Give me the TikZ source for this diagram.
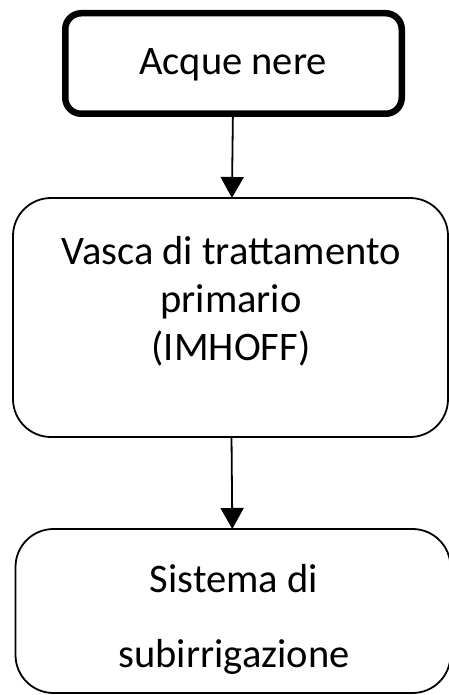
\documentclass[tikz,border=0pt]{standalone}
\usepackage{fontspec}
\setmainfont{Carlito}
\usetikzlibrary{arrows.meta}

\begin{document}
\begin{tikzpicture}[x=1pt,y=-1pt,line width=1.8pt,
  >={Triangle[width=23pt,length=21pt]},
  box/.style={draw, rounded corners=38pt, outer sep=0pt, inner sep=0pt},
  label/.style={font=\fontsize{40.5}{48}\selectfont, align=center, anchor=base}]
   \useasboundingbox (0,0) rectangle (449,695);

   \node[box, line width=6.5pt, rounded corners=16pt, minimum width=336.5pt, minimum height=100.5pt] (acque) at (233.5,63.5) {};
   \node[box, minimum width=435pt, minimum height=239pt] (vasca) at (230.5,317.5) {};
   \node[box, minimum width=435pt, minimum height=164pt] (subirr) at (233,611) {};

   % base = baseline of the last line
   \node[label] (acquetxt)  at (233,75)  {Acque nere};
   \node[label] (vascatxt)  at (231,360) {Vasca di trattamento\\primario\\(IMHOFF)};
   \node[label, font=\fontsize{40.5}{75}\selectfont] (subirrtxt) at (234,667) {Sistema di\\subirrigazione};

   \path[->]
    (acque) edge (vasca)
    (vasca) edge (subirr);
\end{tikzpicture}
\end{document}
